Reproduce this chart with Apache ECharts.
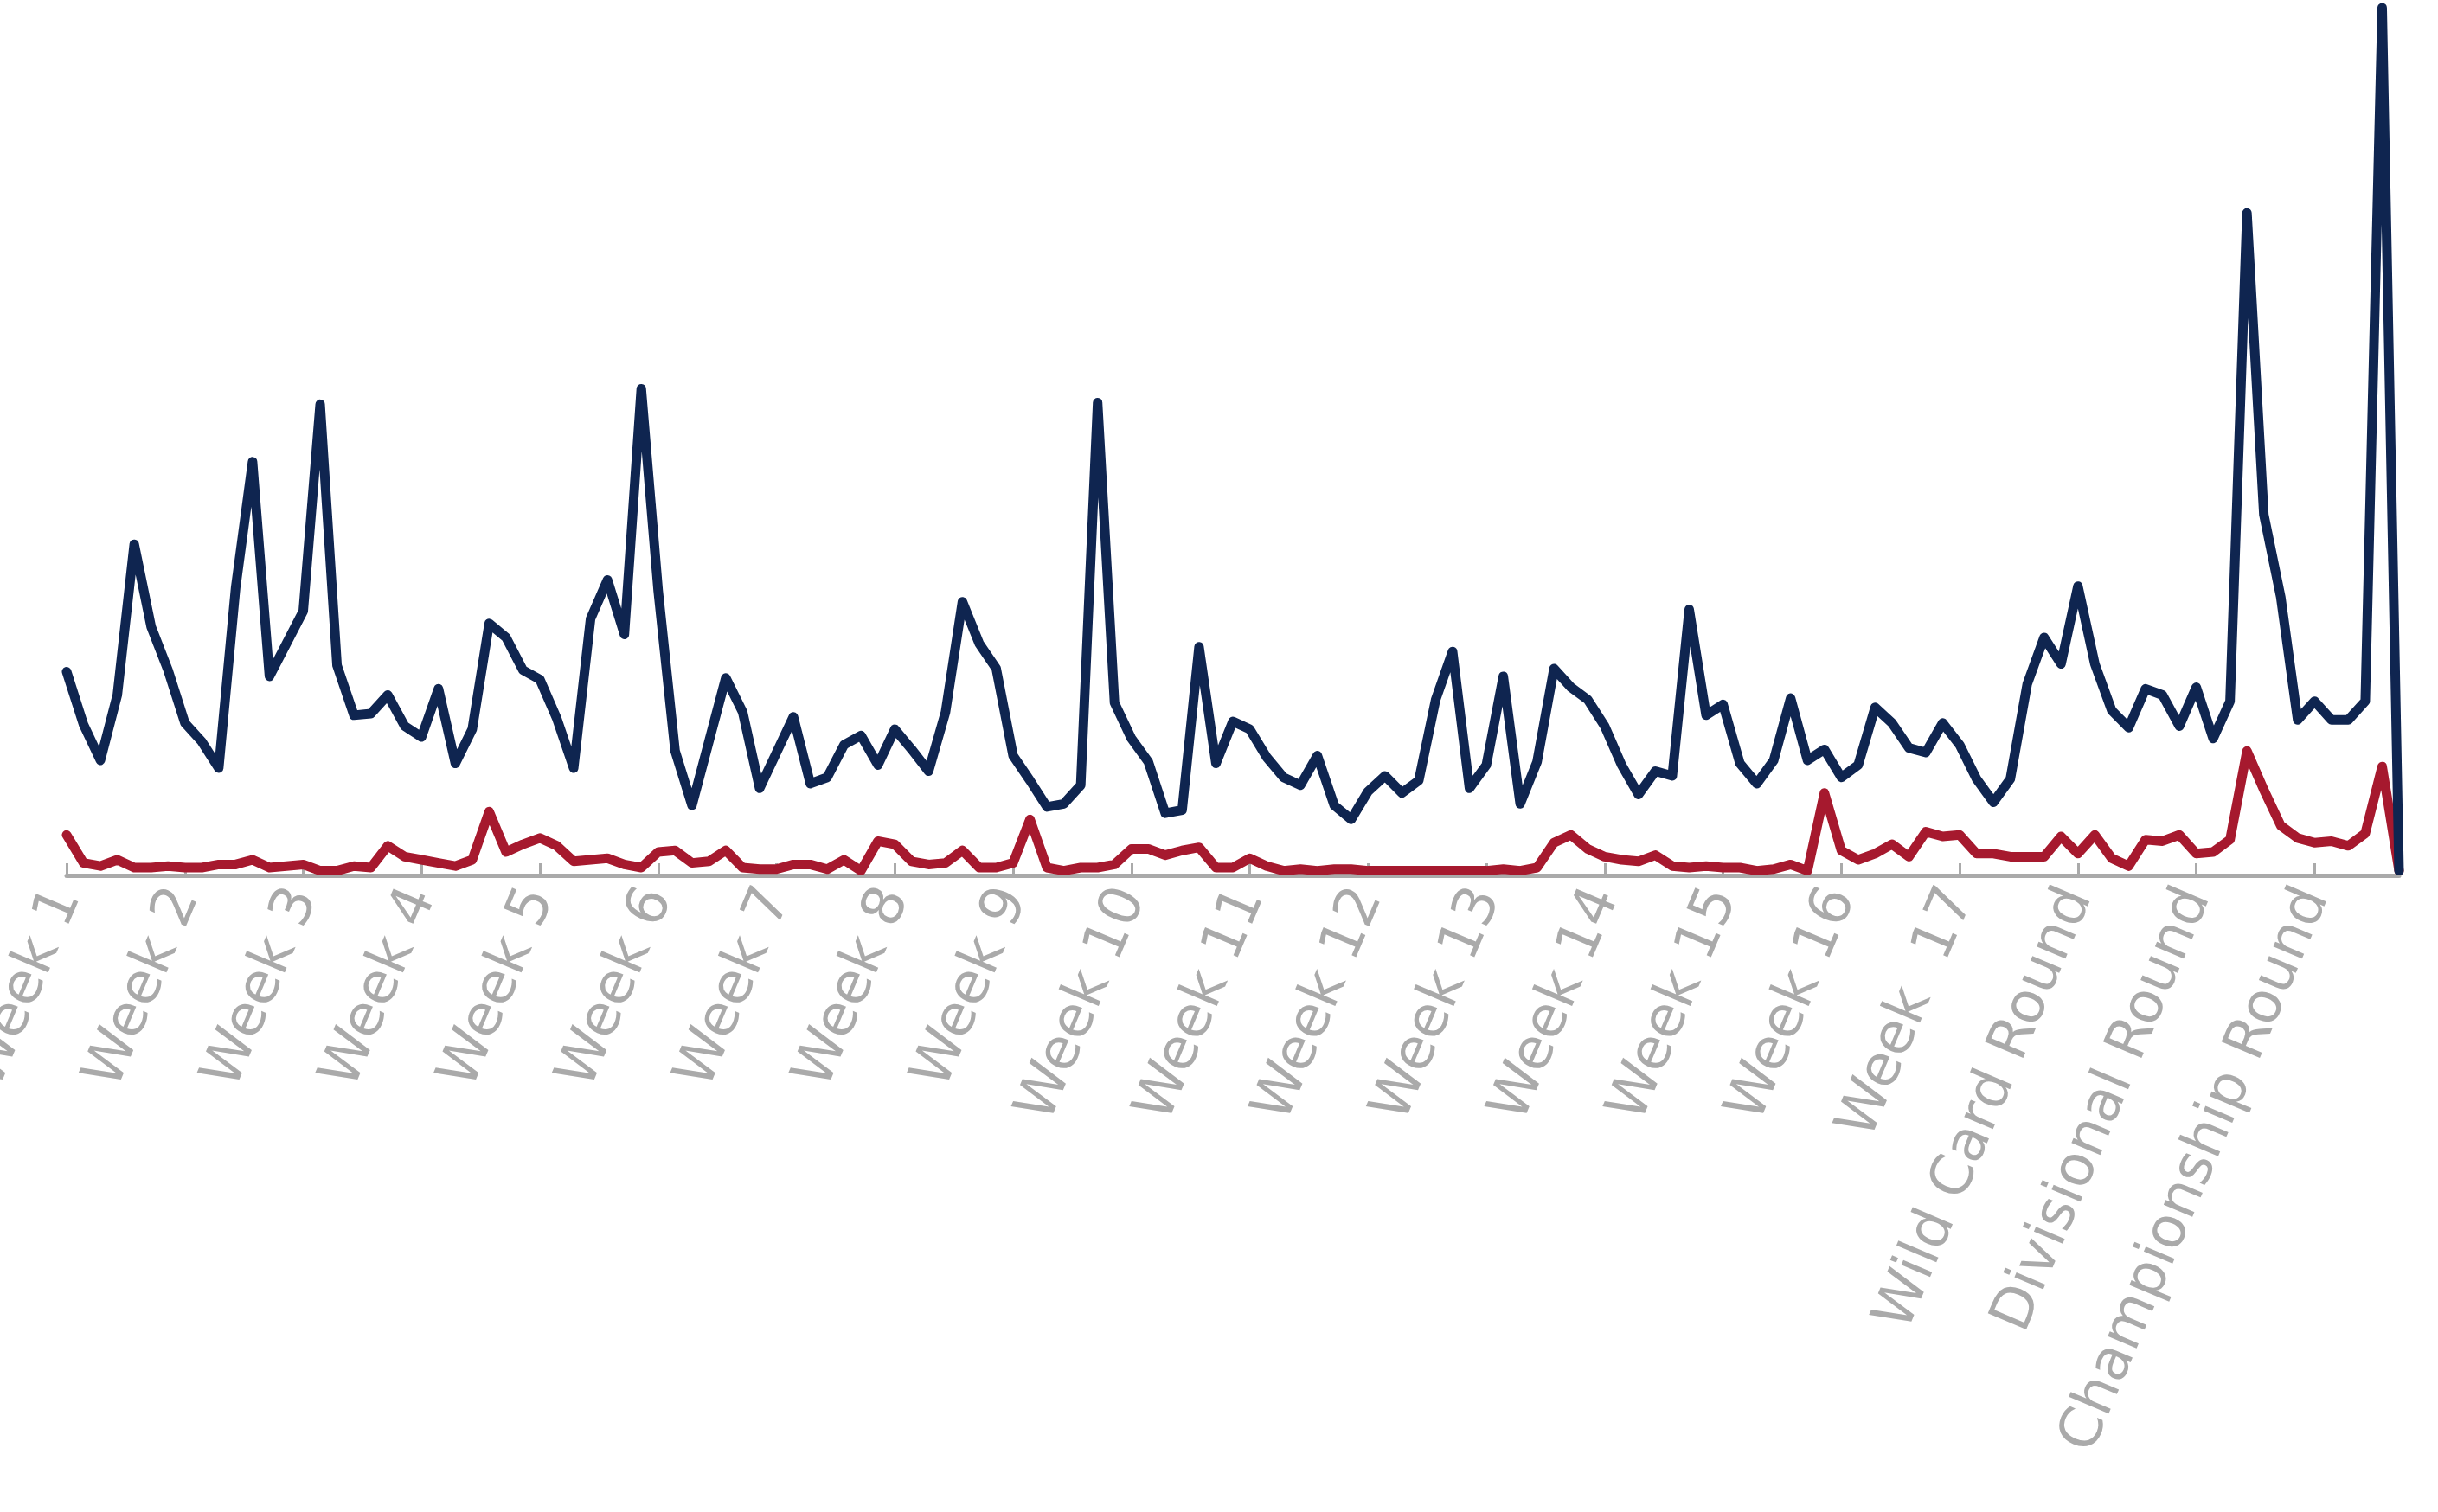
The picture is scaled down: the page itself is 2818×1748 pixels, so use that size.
<!DOCTYPE html>
<html><head><meta charset="utf-8">
<script src="https://cdn.jsdelivr.net/npm/echarts@6/dist/echarts.min.js"></script>
<style>html,body{margin:0;padding:0;background:#fff}#c{width:2818px;height:1748px}</style>
</head><body><div id="c"></div>
<script>
const weekLabels = ["Week 1","Week 2","Week 3","Week 4","Week 5","Week 6","Week 7","Week 8","Week 9","Week 10","Week 11","Week 12","Week 13","Week 14","Week 15","Week 16","Week  17","Wild Card Round","Divisional Round","Championship Round"];
const navyPy = [432,466,489,447,350,403,431,465,477,494,378,297,435,414,393,260,428,460,459,447,467,474,443,491,469,401,410,431,437,462,494,398,373,408,250,380,483,518,477,436,458,507,484,461,504,500,479,473,492,469,482,496,458,387,414,430,486,502,519,517,505,259,452,475,490,523,521,416,491,464,469,487,500,505,486,518,527,509,499,510,502,450,419,507,492,435,517,490,430,442,450,467,492,511,496,499,392,460,453,491,504,489,449,489,482,500,492,455,465,481,484,465,479,501,516,501,440,410,427,377,427,457,468,443,447,467,442,475,451,137,331,384,463,451,463,463,451,5,560];
const redPy = [537,555,557,553,558,558,557,558,558,556,556,553,558,557,556,560,560,557,558,544,551,553,555,557,553,522,548,543,539,544,554,553,552,556,558,548,547,555,554,547,558,559,559,556,556,559,553,560,541,543,554,556,555,547,558,558,555,527,558,560,558,558,556,546,546,550,547,545,558,558,552,557,560,559,560,559,559,560,560,560,560,560,560,560,560,559,560,558,542,537,546,551,553,554,550,557,558,557,558,558,560,559,556,560,510,547,553,549,543,551,535,538,537,549,549,551,551,551,538,549,537,552,557,540,541,537,549,548,540,483,508,531,539,542,541,544,536,493,560];
// values = height above baseline
const navyValues = navyPy.map(v => 563 - v);
const redValues = redPy.map(v => 563 - v);
const days = navyValues.map((_, i) => String(i));
const chart = echarts.init(document.getElementById('c'));
chart.setOption({
  animation:false,
  grid:{left:77,right:45,top:9,bottom:736,containLabel:false,outerBoundsMode:'none'},
  xAxis:{type:'category',data:days,boundaryGap:false,
    axisLine:{lineStyle:{color:'#aaaaaa',width:5}},
    axisTick:{inside:true,length:14,lineStyle:{color:'#aaaaaa',width:3},interval:(i)=>i%7===0},
    axisLabel:{interval:(i)=>i%7===0,rotate:67,margin:18,fontSize:66,color:'#aaaaaa',fontFamily:'DejaVu Sans',
      formatter:(v,i)=>weekLabels[Math.round(+v/7)]||''},
    splitLine:{show:false}},
  yAxis:{type:'value',min:0,max:558,show:false,splitLine:{show:false}},
  series:[
    {type:'line',data:navyValues,showSymbol:false,lineStyle:{color:'#0f2550',width:11,join:'round',cap:'round'},itemStyle:{color:'#0f2550'},z:3},
    {type:'line',data:redValues,showSymbol:false,lineStyle:{color:'#a6192e',width:11,join:'round',cap:'round'},itemStyle:{color:'#a6192e'},z:2}
  ]
});
</script></body></html>
